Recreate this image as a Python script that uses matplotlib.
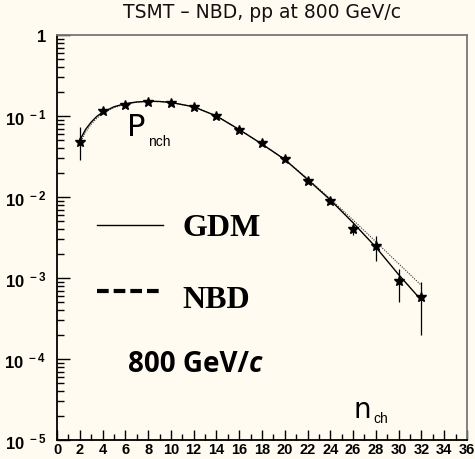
import matplotlib
matplotlib.use("Agg")
import matplotlib.pyplot as plt
import numpy as np

# data points
n_data = [2, 4, 6, 8, 10, 12, 14, 16, 18, 20, 22, 24, 26, 28, 30, 32]
p_data = [0.048, 0.115, 0.138, 0.150, 0.145, 0.130, 0.100, 0.068, 0.046,
          0.0295, 0.0159, 0.0089, 0.0040, 0.00245, 0.00091, 0.00059]
p_lo = [0.029, 0.108, 0.132, 0.144, 0.139, 0.125, 0.096, 0.065, 0.044,
        0.0283, 0.0152, 0.0083, 0.0034, 0.00160, 0.00050, 0.00020]
p_hi = [0.074, 0.122, 0.144, 0.156, 0.151, 0.135, 0.104, 0.071, 0.048,
        0.0307, 0.0166, 0.0095, 0.0047, 0.00330, 0.00130, 0.00090]

# GDM curve (solid) and NBD curve (dotted) values
n_curve = [2, 2.5, 3, 3.5, 4, 5, 6, 7, 8, 9, 10, 12, 14, 16, 18, 20, 22, 24, 26, 28, 30, 32]
gdm_curve = [0.050, 0.068, 0.084, 0.099, 0.111, 0.130, 0.142, 0.149, 0.152, 0.151, 0.147, 0.130,
             0.100, 0.068, 0.045, 0.0290, 0.0165, 0.0092, 0.0048, 0.0024, 0.00110, 0.00053]
nbd_curve = [0.046, 0.063, 0.079, 0.094, 0.107, 0.127, 0.140, 0.148, 0.152, 0.151, 0.147, 0.130,
             0.100, 0.068, 0.045, 0.0292, 0.0168, 0.0095, 0.0052, 0.0028, 0.00150, 0.00081]

x_ticks = list(range(0, 37, 2))
y_ticks = [1e-5, 1e-4, 1e-3, 1e-2, 1e-1, 1]
y_labels = [r"10$^{\ -5}$", r"10$^{\ -4}$", r"10$^{\ -3}$",
            r"10$^{\ -2}$", r"10$^{\ -1}$", "1"]

plt.rcParams["mathtext.fontset"] = "custom"
plt.rcParams["mathtext.rm"] = "Liberation Sans:bold"
plt.rcParams["mathtext.it"] = "Liberation Sans:bold"
plt.rcParams["mathtext.bf"] = "Liberation Sans:bold"

bg = "#fffbf0"
fig = plt.figure(figsize=(4.75, 4.6), dpi=100, facecolor=bg)
ax = fig.add_axes([57/475, 1-441/460, (467-57)/475, (441-36)/460], facecolor=bg)

ax.set_yscale("log")
ax.set_xlim(0, 36)
ax.set_ylim(1e-5, 1)

ax.plot(n_curve, nbd_curve, color="#333333", lw=0.8, ls=(0, (1, 1.2)), zorder=2)
ax.plot(n_curve, gdm_curve, color="black", lw=1.0, zorder=3)

p = np.array(p_data)
err = [p - np.array(p_lo), np.array(p_hi) - p]
ax.errorbar(n_data, p_data, yerr=err, fmt="none", ecolor="black", elinewidth=0.9, capsize=0, zorder=4)
ax.plot(n_data, p_data, ls="none", marker="*", ms=7.5, color="black", zorder=5)

# axes styling
for s in ["top", "right"]:
    ax.spines[s].set_color("#777777")
    ax.spines[s].set_linewidth(1.3)
for s in ["left", "bottom"]:
    ax.spines[s].set_color("black")
    ax.spines[s].set_linewidth(1.3)

ax.set_xticks(x_ticks)
ax.set_xticklabels([str(t) for t in x_ticks], fontsize=10.5, fontweight="bold", family="Liberation Sans")
ax.set_xticks(list(range(1, 36, 2)), minor=True)
ax.tick_params(axis="x", which="major", direction="in", length=7, width=1, pad=1.5, top=False)
ax.tick_params(axis="x", which="minor", direction="in", length=4, width=1, top=False)

ax.set_yticks(y_ticks)
ax.set_yticklabels(y_labels, fontsize=12, fontweight="bold", family="Liberation Sans")
ax.tick_params(axis="y", which="major", direction="in", length=9, width=1, pad=8, right=False)
ax.tick_params(axis="y", which="minor", direction="in", length=5, width=1, right=False)
ax.yaxis.set_minor_locator(matplotlib.ticker.LogLocator(base=10, subs=np.arange(2, 10)))
ax.yaxis.set_minor_formatter(matplotlib.ticker.NullFormatter())

fig.text(262/475, 1-13/460, "TSMT – NBD, pp at 800 GeV/c", ha="center", va="center",
         fontsize=13.5, family="DejaVu Sans", color="#111111")

def fx(px):
    return (px - 57) / (467 - 57)
def fy(py):
    return 1 - (py - 36) / (441 - 36)

# labels inside
ax.text(fx(127), fy(127), "P", transform=ax.transAxes, fontsize=22, family="DejaVu Sans",
        ha="left", va="center")
ax.text(fx(148), fy(142), "nch", transform=ax.transAxes, fontsize=10, family="Liberation Sans",
        ha="left", va="center")
ax.text(fx(354), fy(410), "n", transform=ax.transAxes, fontsize=20, family="DejaVu Sans",
        ha="left", va="center")
ax.text(fx(373), fy(419), "ch", transform=ax.transAxes, fontsize=10, family="Liberation Sans",
        ha="left", va="center")

# legend drawn manually
ax.plot([fx(97), fx(163)], [fy(226), fy(226)], transform=ax.transAxes, color="black", lw=1.0)
ax.text(fx(182), fy(229), "GDM", transform=ax.transAxes, fontsize=23, fontweight="bold",
        family="Liberation Serif", ha="left", va="center")
ax.plot([fx(97), fx(163)], [fy(292), fy(292)], transform=ax.transAxes, color="black", lw=3.0,
        ls=(0, (2.8, 1.2)), dash_capstyle="butt")
ax.text(fx(182), fy(300), "NBD", transform=ax.transAxes, fontsize=23, fontweight="bold",
        family="Liberation Serif", ha="left", va="center")
t800 = ax.text(fx(128), fy(364), "800 GeV/", transform=ax.transAxes, fontsize=20, fontweight="bold",
               family="Open Sans", ha="left", va="center")
fig.canvas.draw()
bb = t800.get_window_extent(renderer=fig.canvas.get_renderer())
xend = ax.transAxes.inverted().transform((bb.x1, bb.y0))[0]
ax.text(xend, fy(364), "c", transform=ax.transAxes, fontsize=20, fontweight="bold",
        style="italic", family="Open Sans", ha="left", va="center")

fig.savefig("out.png", dpi=100, facecolor=bg)
